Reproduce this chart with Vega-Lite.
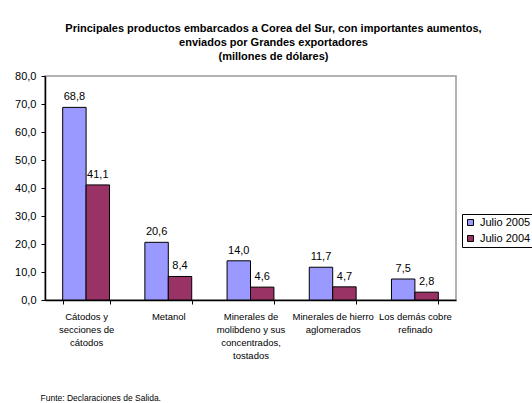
{
  "$schema": "https://vega.github.io/schema/vega-lite/v6.json",
  "width": 411,
  "height": 224,
  "autosize": {"type": "none"},
  "padding": {"left": 45, "top": 76, "right": 76, "bottom": 103},
  "background": "white",
  "title": {
    "text": ["Principales productos embarcados a Corea del Sur, con importantes aumentos,", "enviados por Grandes exportadores", "(millones de dólares)"],
    "font": "Liberation Sans",
    "fontSize": 11,
    "fontWeight": "bold",
    "color": "black",
    "lineHeight": 14,
    "anchor": "middle",
    "dx": 23,
    "offset": 8
  },
  "data": {
    "values": [
      {"producto": "Cátodos y secciones de cátodos", "periodo": "Julio 2005", "valor": 68.8},
      {"producto": "Cátodos y secciones de cátodos", "periodo": "Julio 2004", "valor": 41.1},
      {"producto": "Metanol", "periodo": "Julio 2005", "valor": 20.6},
      {"producto": "Metanol", "periodo": "Julio 2004", "valor": 8.4},
      {"producto": "Minerales de molibdeno y sus concentrados, tostados", "periodo": "Julio 2005", "valor": 14.0},
      {"producto": "Minerales de molibdeno y sus concentrados, tostados", "periodo": "Julio 2004", "valor": 4.6},
      {"producto": "Minerales de hierro aglomerados", "periodo": "Julio 2005", "valor": 11.7},
      {"producto": "Minerales de hierro aglomerados", "periodo": "Julio 2004", "valor": 4.7},
      {"producto": "Los demás cobre refinado", "periodo": "Julio 2005", "valor": 7.5},
      {"producto": "Los demás cobre refinado", "periodo": "Julio 2004", "valor": 2.8}
    ]
  },
  "encoding": {
    "x": {
      "field": "producto",
      "type": "nominal",
      "sort": null,
      "scale": {"paddingInner": 0.43, "paddingOuter": 0.215},
      "axis": {
        "title": "Funte: Declaraciones de Salida.",
        "titleFont": "Liberation Sans",
        "titleFontSize": 8.5,
        "titleFontWeight": "normal",
        "titleColor": "black",
        "titleAnchor": "start",
        "titleAlign": "left",
        "titleBaseline": "middle",
        "titleX": -5,
        "titleY": 97,
        "labelAngle": 0,
        "labelFont": "Liberation Sans",
        "labelFontSize": 9.5,
        "labelColor": "black",
        "labelLineHeight": 13,
        "labelPadding": 7,
        "labelBaseline": "top",
        "labelOverlap": false,
        "labelExpr": "datum.label == 'Cátodos y secciones de cátodos' ? ['Cátodos y', 'secciones de', 'cátodos'] : datum.label == 'Minerales de molibdeno y sus concentrados, tostados' ? ['Minerales de', 'molibdeno y sus', 'concentrados,', 'tostados'] : datum.label == 'Minerales de hierro aglomerados' ? ['Minerales de hierro', 'aglomerados'] : datum.label == 'Los demás cobre refinado' ? ['Los demás cobre', 'refinado'] : datum.label",
        "tickBand": "extent",
        "tickSize": 4,
        "tickColor": "black",
        "domainColor": "black",
        "domainWidth": 1.5
      }
    },
    "xOffset": {"field": "periodo", "type": "nominal", "sort": ["Julio 2005", "Julio 2004"]},
    "y": {
      "field": "valor",
      "type": "quantitative",
      "scale": {"domain": [0, 80], "nice": false},
      "axis": {
        "title": null,
        "values": [0, 10, 20, 30, 40, 50, 60, 70, 80],
        "labelExpr": "replace(format(datum.value, '.1f'), '.', ',')",
        "labelFont": "Liberation Sans",
        "labelFontSize": 11,
        "labelColor": "black",
        "labelPadding": 5,
        "tickSize": 4,
        "tickColor": "black",
        "domainColor": "black",
        "domainWidth": 1.5,
        "grid": false
      }
    }
  },
  "layer": [
    {
      "mark": {"type": "bar", "stroke": "black", "strokeWidth": 1},
      "encoding": {
        "color": {
          "field": "periodo",
          "type": "nominal",
          "sort": ["Julio 2005", "Julio 2004"],
          "scale": {"domain": ["Julio 2005", "Julio 2004"], "range": ["#9999FF", "#993366"]},
          "legend": {
            "title": null,
            "orient": "none",
            "legendX": 417,
            "legendY": 138,
            "symbolType": "square",
            "symbolSize": 36,
            "symbolStrokeColor": "black",
            "symbolStrokeWidth": 1,
            "labelFont": "Liberation Sans",
            "labelFontSize": 11,
            "labelColor": "black",
            "labelOffset": 4,
            "rowPadding": 4,
            "strokeColor": "black",
            "padding": 3,
            "fillColor": "white"
          }
        }
      }
    },
    {
      "mark": {"type": "text", "baseline": "bottom", "dy": -5, "font": "Liberation Sans", "fontSize": 11, "color": "black"},
      "encoding": {
        "text": {"field": "valor", "type": "quantitative", "format": ".1f", "formatType": "number"},
        "detail": {"field": "periodo"}
      }
    }
  ],
  "config": {
    "view": {"stroke": "#999999", "strokeWidth": 1.5},
    "locale": {"number": {"decimal": ",", "thousands": ".", "grouping": [3], "currency": ["", ""]}}
  }
}
